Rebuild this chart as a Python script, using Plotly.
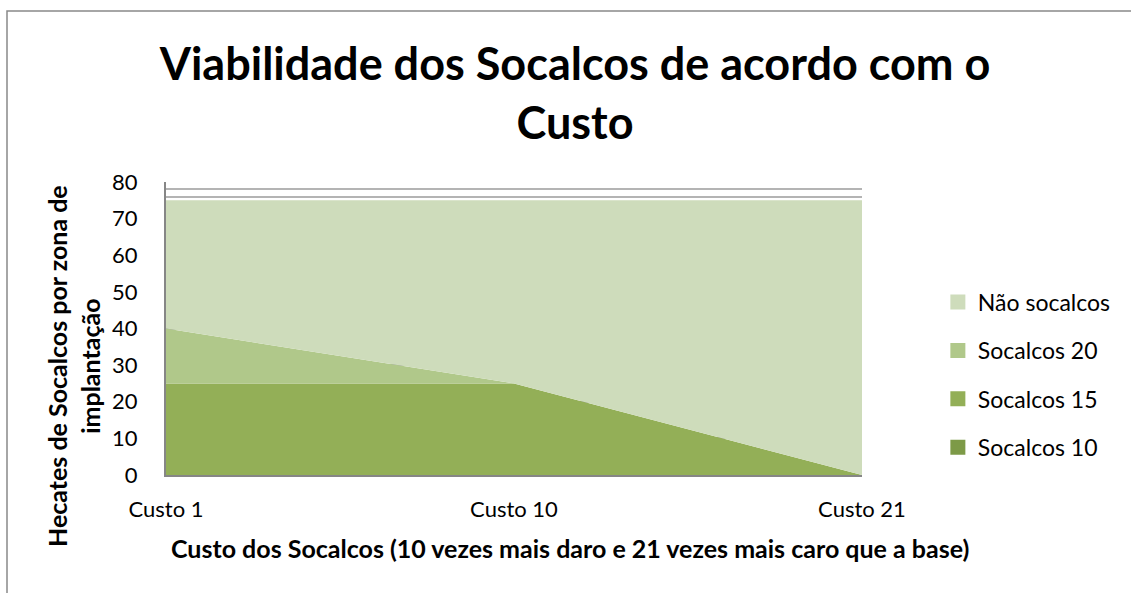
import plotly.graph_objects as go

categories = ["Custo 1", "Custo 10", "Custo 21"]
socalcos_10 = [0, 0, 0]
socalcos_15 = [25, 25, 0]
socalcos_20 = [15, 0, 0]
nao_socalcos = [35, 50, 75]

series = [
    ("Socalcos 10", socalcos_10, "#7d9a47"),
    ("Socalcos 15", socalcos_15, "#93af57"),
    ("Socalcos 20", socalcos_20, "#b0c88a"),
    ("Não socalcos", nao_socalcos, "#cedcbb"),
]

title_text = "<b>Viabilidade dos Socalcos de acordo com o<br>Custo</b>"
x_title = "<b>Custo dos Socalcos (10 vezes mais daro e 21 vezes mais caro que a base)</b>"
y_title = "<b>Hecates de Socalcos por zona de<br>implantação</b>"

FONT = "Lato, Calibri, Carlito, sans-serif"

W, H = 1131, 593
L, R, T, B = 166, 269, 182, 118
PW, PH = W - L - R, H - T - B

fig = go.Figure()
# stacked areas
for name, vals, col in series:
    fig.add_trace(go.Scatter(
        x=categories, y=vals, name=name, mode="lines",
        stackgroup="one", line=dict(width=0, color=col),
        fillcolor=col, showlegend=False, hoverinfo="x+y+name",
    ))
# legend entries (square swatches), top to bottom
for name, vals, col in reversed(series):
    fig.add_trace(go.Scatter(
        x=[None], y=[None], name=name, mode="markers",
        marker=dict(symbol="square", size=15, color=col),
        legendgroup=name, showlegend=True,
    ))

fig.update_layout(
    width=W, height=H,
    margin=dict(l=L, r=R, t=T, b=B),
    paper_bgcolor="white", plot_bgcolor="white",
    font=dict(family=FONT, color="#000000"),
    title=dict(
        text=title_text,
        x=575 / W, xanchor="center", xref="container",
        y=1 - 80 / H, yanchor="middle", yref="container",
        font=dict(size=45, family=FONT, color="#000000"),
    ),
    legend=dict(
        x=1.109, xanchor="left", y=0.341, yanchor="middle",
        traceorder="grouped", tracegroupgap=15.5,
        font=dict(size=23, family=FONT),
        itemwidth=30,
    ),
    showlegend=True,
)

fig.update_xaxes(
    type="category", range=[0, 2],
    showgrid=False, showline=True, linecolor="#868686", linewidth=2,
    ticks="", ticklabelstandoff=14,
    tickfont=dict(size=22, family=FONT),
)
fig.update_yaxes(
    range=[0, 80], tickvals=list(range(0, 81, 10)),
    showgrid=True, gridcolor="#8c8c8c", gridwidth=1.5,
    showline=True, linecolor="#868686", linewidth=2,
    ticks="", ticklabelstandoff=22,
    tickfont=dict(size=22, family=FONT),
    minor=dict(tickvals=[76, 78], showgrid=True, gridcolor="#b4b4b4", gridwidth=1.5),
    zeroline=False,
)

# axis titles (placed like the original, not centred on the plot area)
fig.add_annotation(
    text=x_title, xref="paper", yref="paper",
    x=(570 - L) / PW, y=-(548 - (H - B)) / PH,
    xanchor="center", yanchor="middle", showarrow=False,
    font=dict(size=25, family=FONT, color="#000000"),
)
fig.add_annotation(
    text=y_title, xref="paper", yref="paper",
    x=(73 - L) / PW, y=((H - B) - 366) / PH,
    xanchor="center", yanchor="middle", showarrow=False, textangle=-90,
    font=dict(size=25, family=FONT, color="#000000"),
)

# outer chart border
fig.add_shape(type="rect", xref="paper", yref="paper",
              x0=(7 - L) / PW, x1=1.6, y0=-0.6, y1=((H - B) - 11) / PH,
              line=dict(color="#898989", width=1.5), fillcolor="rgba(0,0,0,0)",
              layer="below")

fig.write_html("out.html", config={"displayModeBar": False},
               post_script="document.body.style.margin='0';document.body.style.overflow='hidden';")
